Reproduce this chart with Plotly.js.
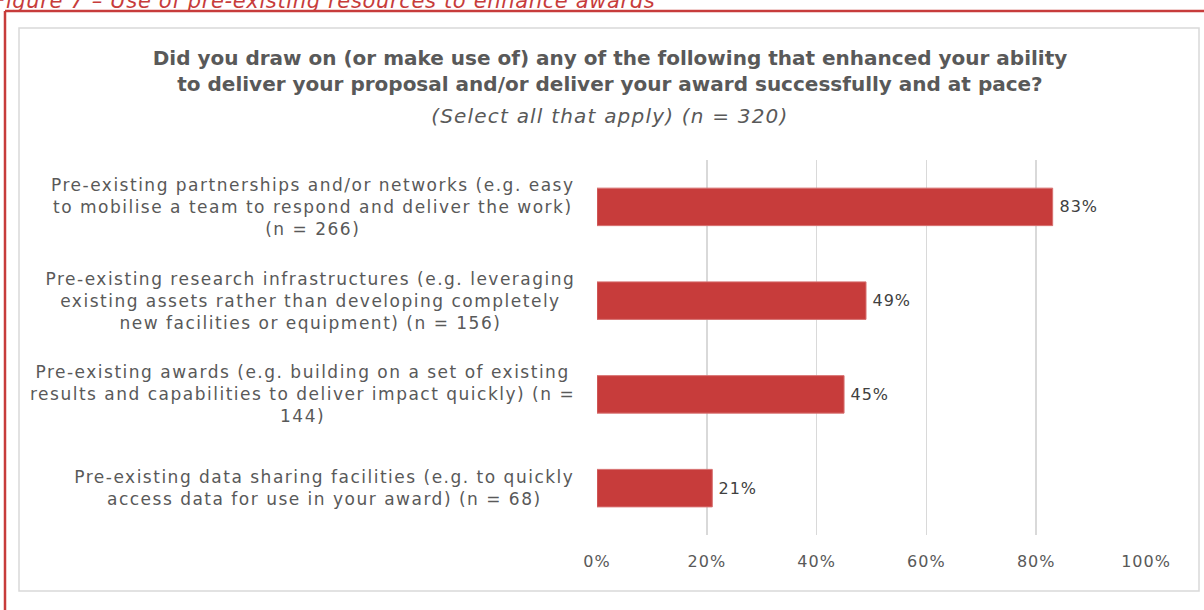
<!DOCTYPE html>
<html>
<head>
<meta charset="utf-8">
<script src="https://cdn.plot.ly/plotly-3.0.1.min.js"></script>
<style>
html,body{margin:0;padding:0;background:#fff;}
#chart{width:1204px;height:610px;}
#chart .annotation-text[style*="font-size: 17px"]{letter-spacing:1.5px;}
#chart .annotation-text[style*="font-size: 16px"]{letter-spacing:1px;}
#chart .annotation-text[style*="font-size: 20px"]{letter-spacing:1.2px;}
#chart .annotation-text[style*="font-size: 21px"]{letter-spacing:0.65px;}
#chart .xtick text{letter-spacing:1px;}
</style>
</head>
<body>
<div id="chart"></div>
<script>
// ---- data ----
const categories = [
  "Pre-existing partnerships and/or networks (e.g. easy<br>to mobilise a team to respond and deliver the work)<br>(n = 266)",
  "Pre-existing research infrastructures (e.g. leveraging<br>existing assets rather than developing completely<br>new facilities or equipment) (n = 156)",
  "Pre-existing awards (e.g. building on a set of existing<br>results and capabilities to deliver impact quickly) (n =<br>144)",
  "Pre-existing data sharing facilities (e.g. to quickly<br>access data for use in your award) (n = 68)"
];
const shareValues = [0.83, 0.49, 0.45, 0.21];
const xTickValues = [0, 0.2, 0.4, 0.6, 0.8, 1.0];
const xTickLabels = ["0%", "20%", "40%", "60%", "80%", "100%"];
const chartTitle = "Did you draw on (or make use of) any of the following that enhanced your ability<br>to deliver your proposal and/or deliver your award successfully and at pace?";
const chartSubtitle = "(Select all that apply) (n = 320)";
const figureCaption = "Figure 7 – Use of pre-existing resources to enhance awards";

// ---- layout helpers (pixel -> paper) ----
const W = 1204, H = 610;
const L = 597, R = 1146, T = 160, B = 535;
const xp = px => (px - L) / (R - L);
const yp = py => (B - py) / (B - T);

const FONT = "DejaVu Sans";
const RED = "#c73c3b";
const LABEL_SPACING = 1.5;   // matches CSS letter-spacing for 17px annotations
const CAPTION_SPACING = 0.65; // matches CSS letter-spacing for 21px annotation

const labelAnnotations = categories.map(c => {
  const longest = Math.max(...c.split("<br>").map(s => s.length));
  return {
    xref: "paper", yref: "y", x: xp(577), y: c,
    xanchor: "right", yanchor: "middle", align: "center",
    xshift: -LABEL_SPACING * longest / 2,
    text: c, showarrow: false,
    font: {family: FONT, size: 17, color: "#595959"}
  };
});

const valueAnnotations = categories.map((c, i) => ({
  xref: "x", yref: "y", x: shareValues[i], y: c,
  xanchor: "left", yanchor: "middle", xshift: 6,
  text: Math.round(shareValues[i] * 100) + "%", showarrow: false,
  font: {family: FONT, size: 16, color: "#404040"}
}));

const trace = {
  type: "bar", orientation: "h",
  x: shareValues, y: categories,
  marker: {color: RED, line: {color: "#d77070", width: 1}},
  hoverinfo: "skip"
};

const layout = {
  width: W, height: H,
  margin: {l: L, r: W - R, t: T, b: H - B, pad: 0},
  paper_bgcolor: "#ffffff", plot_bgcolor: "#ffffff",
  showlegend: false,
  bargap: 0.6,
  title: {
    text: "<b>" + chartTitle + "</b>",
    x: 610 / W, xref: "container", xanchor: "center",
    y: 1 - 65 / H, yref: "container", yanchor: "top",
    font: {family: FONT, size: 20, color: "#595959"}
  },
  xaxis: {
    range: [0, 1], tickvals: xTickValues, ticktext: xTickLabels,
    showgrid: true, gridcolor: "#d9d9d9", gridwidth: 1.5,
    zeroline: false, showline: false, ticks: "",
    ticklabelstandoff: 15,
    tickfont: {family: FONT, size: 16, color: "#595959"},
    fixedrange: true
  },
  yaxis: {
    type: "category", categoryorder: "array", categoryarray: categories,
    autorange: "reversed", showticklabels: false, showgrid: false,
    zeroline: false, showline: false, ticks: "", fixedrange: true
  },
  shapes: [
    {type: "rect", xref: "paper", yref: "paper", x0: xp(19), x1: xp(1199), y0: yp(28), y1: yp(591),
     line: {color: "#d9d9d9", width: 1.5}, layer: "below"},
    {type: "line", xref: "paper", yref: "paper", x0: xp(5), x1: xp(1210), y0: yp(11), y1: yp(11),
     line: {color: RED, width: 2.5}},
    {type: "line", xref: "paper", yref: "paper", x0: xp(5), x1: xp(5), y0: yp(11), y1: yp(620),
     line: {color: RED, width: 2.5}}
  ],
  annotations: labelAnnotations.concat(valueAnnotations, [
    {xref: "paper", yref: "paper", x: xp(610), y: yp(116), xanchor: "center", yanchor: "middle",
     text: "<i>" + chartSubtitle + "</i>", showarrow: false,
     font: {family: FONT, size: 20, color: "#595959"}},
    {xref: "paper", yref: "paper", x: xp(-9), y: yp(15), xanchor: "left", yanchor: "bottom",
     xshift: CAPTION_SPACING * figureCaption.length / 2,
     text: "<i>" + figureCaption + "</i>", showarrow: false,
     font: {family: FONT, size: 21, color: RED}}
  ])
};

Plotly.newPlot("chart", [trace], layout, {displayModeBar: false, staticPlot: true});
</script>
</body>
</html>
